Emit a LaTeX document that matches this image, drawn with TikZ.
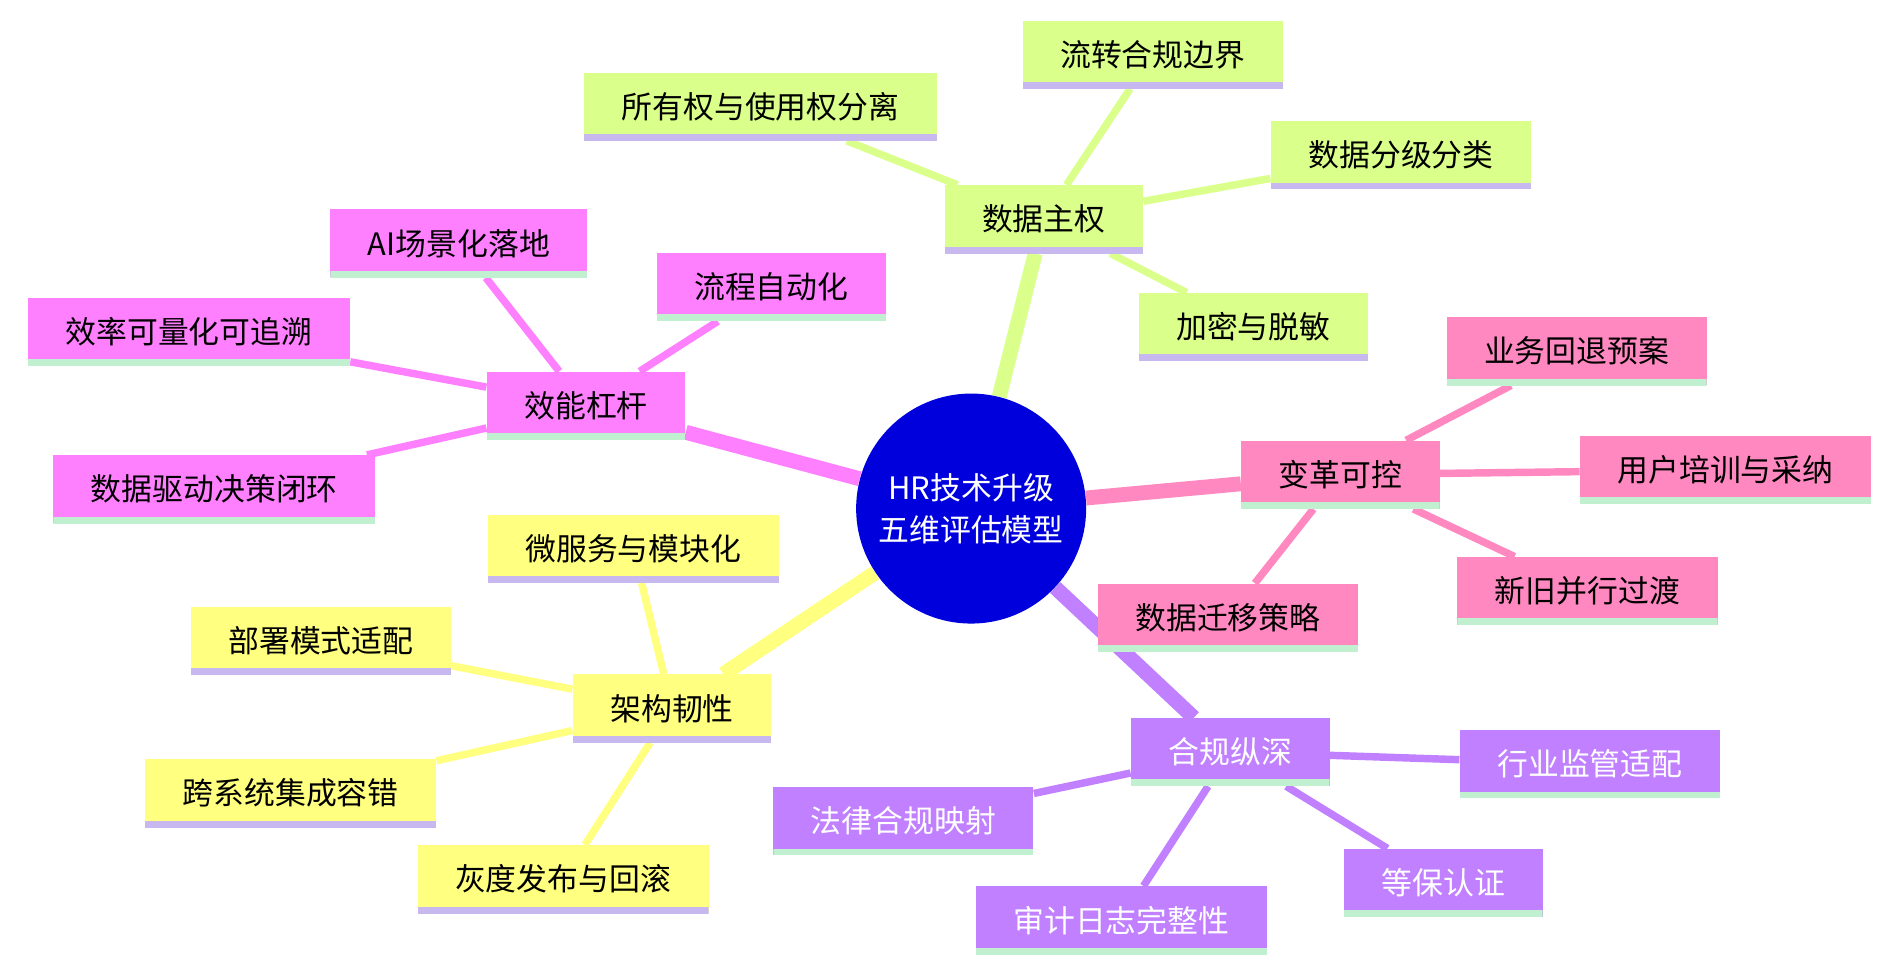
\documentclass[tikz,border=0pt]{standalone}
\usepackage{fontspec}
\setmainfont{Noto Sans CJK SC}
\usetikzlibrary{backgrounds}

\begin{document}
\begin{tikzpicture}[x=0.02cm,y=-0.02cm]
    \tikzset{box/.style={rectangle, fill=#1, minimum height=1.12cm, inner xsep=0.62cm, font=\fontsize{14.5}{17}\selectfont},
             line/.style={path picture={\draw[line width=6pt,#1] (path picture bounding box.south west) -- (path picture bounding box.south east);}},
             main/.style={line width=7pt},
             twig/.style={line width=3.5pt}}
    \definecolor{cgreen}{HTML}{DAFF8A}
    \definecolor{cmag}{HTML}{FF80FF}
    \definecolor{cyel}{HTML}{FFFF80}
    \definecolor{cpink}{HTML}{FF88C0}
    \definecolor{cpurp}{HTML}{C080FF}
    \definecolor{clav}{HTML}{C8B8F0}
    \definecolor{cmint}{HTML}{C0F0D0}

    \useasboundingbox (0,0) rectangle (1560,800);

    \node [circle, fill={rgb,255:red,0;green,0;blue,221}, text=white, minimum size=3.8cm, align=center, font=\fontsize{14.5}{20}\selectfont] (root) at (802,420) {HR技术升级\\五维评估模型};

    % data sovereignty
    \node [box=cgreen, line=clav] (sov) at (862,181) {数据主权};
    \node [box=cgreen, line=clav] (own) at (628,88) {所有权与使用权分离};
    \node [box=cgreen, line=clav] (flow) at (952,45) {流转合规边界};
    \node [box=cgreen, line=clav] (grade) at (1157,128) {数据分级分类};
    \node [box=cgreen, line=clav] (enc) at (1035,270) {加密与脱敏};

    % efficiency
    \node [box=cmag, line=cmint] (eff) at (484,335) {效能杠杆};
    \node [box=cmag, line=cmint] (ai) at (379,201) {AI场景化落地};
    \node [box=cmag, line=cmint] (auto) at (637,237) {流程自动化};
    \node [box=cmag, line=cmint] (quant) at (156,274) {效率可量化可追溯};
    \node [box=cmag, line=cmint] (loop) at (177,404) {数据驱动决策闭环};

    % architecture
    \node [box=cyel, line=clav] (arch) at (555,585) {架构韧性};
    \node [box=cyel, line=clav] (micro) at (523,453) {微服务与模块化};
    \node [box=cyel, line=clav] (deploy) at (265,529) {部署模式适配};
    \node [box=cyel, line=clav] (integ) at (240,655) {跨系统集成容错};
    \node [box=cyel, line=clav] (gray) at (465,726) {灰度发布与回滚};

    % change control
    \node [box=cpink, line=cmint] (chg) at (1107,392) {变革可控};
    \node [box=cpink, line=cmint] (back) at (1302,290) {业务回退预案};
    \node [box=cpink, line=cmint] (train) at (1425,388) {用户培训与采纳};
    \node [box=cpink, line=cmint] (para) at (1311,488) {新旧并行过渡};
    \node [box=cpink, line=cmint] (mig) at (1014,510) {数据迁移策略};

    % compliance
    \node [box=cpurp, line=cmint, text=white] (comp) at (1016,621) {合规纵深};
    \node [box=cpurp, line=cmint, text=white] (ind) at (1313,631) {行业监管适配};
    \node [box=cpurp, line=cmint, text=white] (law) at (746,678) {法律合规映射};
    \node [box=cpurp, line=cmint, text=white] (mlps) at (1192,729) {等保认证};
    \node [box=cpurp, line=cmint, text=white] (audit) at (926,760) {审计日志完整性};

    \begin{scope}[on background layer]
        \draw[main, cgreen] (root) -- (sov);
        \draw[main, cmag] (root) -- (eff);
        \draw[main, cyel] (root) -- (arch);
        \draw[main, cpink] (root) -- (chg);
        \draw[main, cpurp] (root) -- (comp);
        \foreach \a in {own,flow,grade,enc} \draw[twig, cgreen] (sov) -- (\a);
        \foreach \a in {ai,auto,quant,loop} \draw[twig, cmag] (eff) -- (\a);
        \foreach \a in {micro,deploy,integ,gray} \draw[twig, cyel] (arch) -- (\a);
        \foreach \a in {back,train,para,mig} \draw[twig, cpink] (chg) -- (\a);
        \foreach \a in {ind,law,mlps,audit} \draw[twig, cpurp] (comp) -- (\a);
    \end{scope}
\end{tikzpicture}
\end{document}
